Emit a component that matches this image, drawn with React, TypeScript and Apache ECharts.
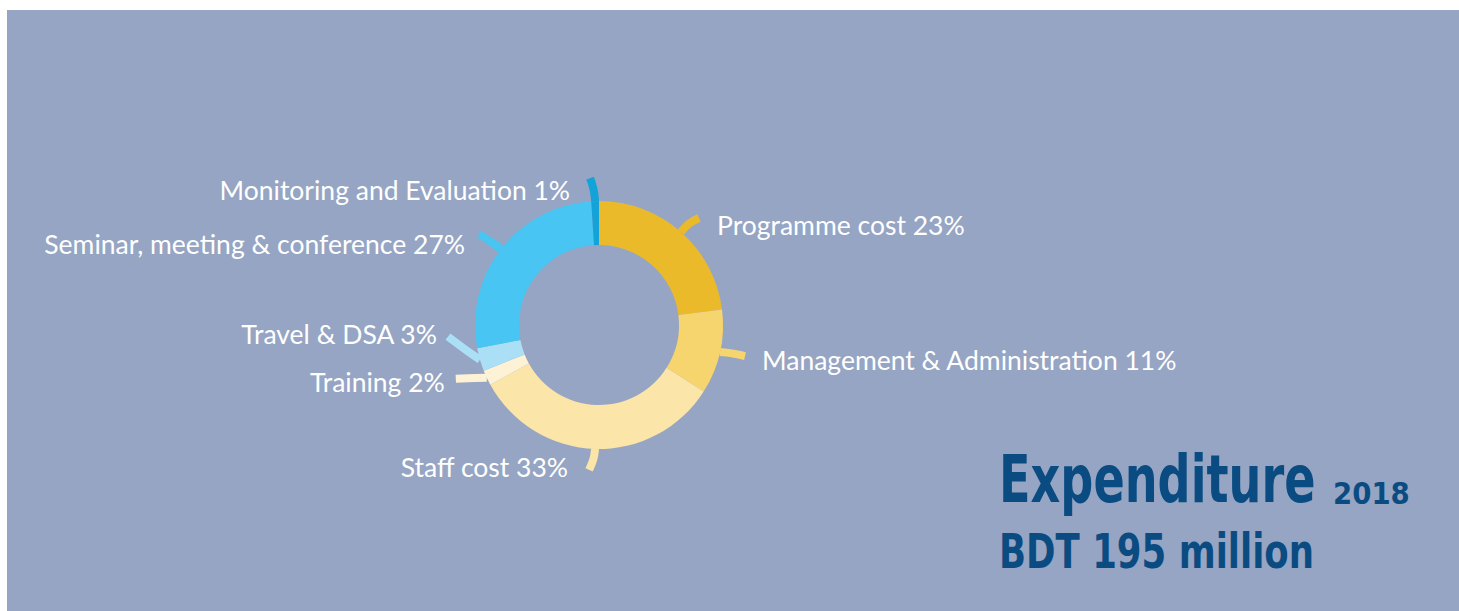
import React, { useEffect, useRef } from "react";
import * as echarts from "echarts";

const categories = [
  "Programme cost",
  "Management & Administration",
  "Staff cost",
  "Training",
  "Travel & DSA",
  "Seminar, meeting & conference",
  "Monitoring and Evaluation",
];
const shares = [23, 11, 33, 2, 3, 27, 1];
const sliceColors = ["#eaba2b", "#f6d46e", "#fbe5a8", "#fdf1d6", "#abdff5", "#48c5f2", "#14a3d8"];
const titleText = "Expenditure";
const yearText = "2018";
const totalText = "BDT 195 million";

// label/tab layout relative to the ring edge point of each slice
const tabLayout: Record<string, { v1: number[]; v2: number[]; t: number[]; align: string }> = {
  "Programme cost": { v1: [7, -9], v2: [18, -14], t: [36, -7], align: "left" },
  "Management & Administration": { v1: [12, 1], v2: [25, 4], t: [42, 8], align: "left" },
  "Staff cost": { v1: [-1, 10], v2: [-6, 21], t: [-27, 18], align: "right" },
  "Training": { v1: [-12, 0], v2: [-31, 1], t: [-42, 4], align: "right" },
  "Travel & DSA": { v1: [-12, -8], v2: [-32, -23], t: [-43, -26], align: "right" },
  "Seminar, meeting & conference": { v1: [-8, -6], v2: [-22, -15], t: [-36, -5], align: "right" },
  "Monitoring and Evaluation": { v1: [-1, -12], v2: [-5, -23], t: [-25, -11], align: "right" },
};

const TITLE_FONT = "'DejaVu Sans', sans-serif";

export default function App() {
  const ref = useRef<HTMLDivElement>(null);
  useEffect(() => {
    document.body.style.margin = "0";
    const chart = echarts.init(ref.current!, null, { renderer: "svg" });
    chart.setOption({
      animation: false,
      backgroundColor: "#ffffff",
      graphic: [
        {
          type: "rect",
          z: -10,
          shape: { x: 7, y: 10, width: 1452, height: 601 },
          style: { fill: "#96a5c3" },
        },
        {
          type: "text",
          x: 999,
          y: 446,
          scaleX: 0.7,
          style: {
            text: titleText,
            fill: "#0a4c82",
            font: `bold 66px ${TITLE_FONT}`,
            verticalAlign: "top",
          },
        },
        {
          type: "text",
          x: 1333,
          y: 479,
          scaleX: 0.92,
          style: {
            text: yearText,
            fill: "#0a4c82",
            font: `bold 30px ${TITLE_FONT}`,
            verticalAlign: "top",
          },
        },
        {
          type: "text",
          x: 999,
          y: 528,
          scaleX: 0.74,
          style: {
            text: totalText,
            fill: "#0a4c82",
            font: `bold 48px ${TITLE_FONT}`,
            verticalAlign: "top",
          },
        },
      ],
      series: [
        {
          type: "pie",
          center: [599, 325],
          radius: [80, 124],
          startAngle: 90,
          clockwise: true,
          avoidLabelOverlap: false,
          itemStyle: { borderWidth: 0 },
          label: {
            show: true,
            position: "outside",
            formatter: "{b} {c}%",
            color: "#ffffff",
            fontFamily: "Lato, sans-serif",
            fontSize: 26.5,
          },
          labelLine: {
            show: true,
            length: 12,
            length2: 10,
            smooth: 0.4,
            lineStyle: { width: 8 },
          },
          labelLayout: (params: any) => {
            const name = categories[params.dataIndex];
            const cfg = tabLayout[name];
            const p0 = params.labelLinePoints ? params.labelLinePoints[0] : [0, 0];
            return {
              x: p0[0] + cfg.t[0],
              y: p0[1] + cfg.t[1],
              align: cfg.align,
              verticalAlign: "middle",
              labelLinePoints: [
                [p0[0], p0[1]],
                [p0[0] + cfg.v1[0], p0[1] + cfg.v1[1]],
                [p0[0] + cfg.v2[0], p0[1] + cfg.v2[1]],
              ],
            };
          },
          emphasis: { disabled: true },
          data: categories.map((c, i) => ({
            name: c,
            value: shares[i],
            itemStyle: { color: sliceColors[i] },
            labelLine: { lineStyle: { color: sliceColors[i] } },
          })),
        },
      ],
    });
    return () => chart.dispose();
  }, []);
  return <div ref={ref} style={{ width: 1459, height: 611 }} />;
}
